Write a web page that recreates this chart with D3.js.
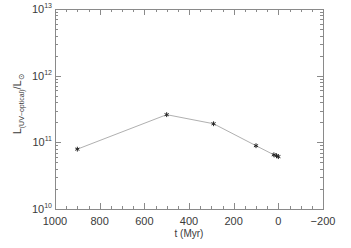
<!DOCTYPE html>
<html>
<head>
<meta charset="utf-8">
<script src="https://cdn.jsdelivr.net/npm/d3@7"></script>
<style>
body { margin: 0; background: #fff; }
svg text { font-family: "Liberation Sans", "DejaVu Sans", sans-serif; fill: #3a3a3a; }
</style>
</head>
<body>
<svg id="canvas" width="351" height="248"></svg>
<script>
var width = 351;
var height = 248;

// data
var times = [900, 500, 290, 100, 20, 8, 0];
var lums = [7.9e10, 2.6e11, 1.9e11, 8.9e10, 6.5e10, 6.3e10, 6.1e10];
var xTicks = [1000, 800, 600, 400, 200, 0, -200];
var yTicks = [1e10, 1e11, 1e12, 1e13];
var yExps = [10, 11, 12, 13];

var plotL = 55, plotR = 323, plotT = 9, plotB = 209;
var axisColor = "#8a8a8a";

var xScale = d3.scaleLinear()
.domain([1000, -200])
.range([plotL, plotR]);

var yScale = d3.scaleLog()
.domain([1e10, 1e13])
.range([plotB, plotT]);

var svg = d3.select("#canvas");

// frame
svg.append("rect")
.attr("x", plotL + 0.5).attr("y", plotT + 0.5)
.attr("width", plotR - plotL).attr("height", plotB - plotT)
.attr("fill", "none")
.attr("stroke", axisColor)
.attr("stroke-width", 1);

// x ticks (bottom + top)
var xMinor = d3.range(1000, -201, -50);
xMinor.forEach(function(v) {
  var major = v % 200 === 0;
  var len = major ? 6 : 3;
  var x = Math.round(xScale(v)) + 0.5;
  svg.append("line").attr("x1", x).attr("x2", x)
  .attr("y1", plotB).attr("y2", plotB - len)
  .attr("stroke", axisColor);
  svg.append("line").attr("x1", x).attr("x2", x)
  .attr("y1", plotT).attr("y2", plotT + len)
  .attr("stroke", axisColor);
});

// y ticks (left + right)
var yMinor = [];
for (var e = 10; e < 13; e++) {
  for (var m = 1; m < 10; m++) yMinor.push(m * Math.pow(10, e));
}
yMinor.push(1e13);
yMinor.forEach(function(v) {
  var lg = Math.log10(v);
  var major = Math.abs(lg - Math.round(lg)) < 1e-9;
  var len = major ? 6 : 3;
  var y = Math.round(yScale(v)) + 0.5;
  svg.append("line").attr("x1", plotL).attr("x2", plotL + len)
  .attr("y1", y).attr("y2", y)
  .attr("stroke", axisColor);
  svg.append("line").attr("x1", plotR).attr("x2", plotR - len)
  .attr("y1", y).attr("y2", y)
  .attr("stroke", axisColor);
});

// x tick labels
svg.selectAll(".xlab")
.data(xTicks)
.enter().append("text")
.attr("class", "xlab")
.attr("x", function(d) { return xScale(d); })
.attr("y", 225)
.attr("text-anchor", "middle")
.attr("font-size", 11)
.text(function(d) { return d < 0 ? "\u2212" + Math.abs(d) : d; });

// y tick labels
var ylab = svg.selectAll(".ylab")
.data(yTicks)
.enter().append("text")
.attr("class", "ylab")
.attr("x", 52)
.attr("y", function(d) { return yScale(d) + 4; })
.attr("text-anchor", "end")
.attr("font-size", 11);
ylab.append("tspan").text("10");
ylab.append("tspan")
.attr("dy", -5)
.attr("font-size", 7)
.text(function(d, i) { return yExps[i]; });

// axis titles
svg.append("text")
.attr("x", (plotL + plotR) / 2)
.attr("y", 237)
.attr("text-anchor", "middle")
.attr("font-size", 10)
.text("t (Myr)");

var yt = svg.append("text")
.attr("transform", "translate(21,104) rotate(-90)")
.attr("text-anchor", "middle")
.attr("font-size", 11);
yt.append("tspan").text("L");
yt.append("tspan").attr("dy", 3).attr("font-size", 7).text("(UV\u2212optical)");
yt.append("tspan").attr("dy", -3).text("/L");
yt.append("tspan").attr("dy", 3).attr("font-size", 8).text("\u2299");

// line
var line = d3.line()
.x(function(d, i) { return xScale(times[i]); })
.y(function(d) { return yScale(d); });

svg.append("path")
.datum(lums)
.attr("d", line)
.attr("fill", "none")
.attr("stroke", "#b0b0b0")
.attr("stroke-width", 1);

// asterisk markers
var sym = d3.symbol().type(d3.symbolAsterisk).size(16);
svg.selectAll(".pt")
.data(lums)
.enter().append("path")
.attr("class", "pt")
.attr("d", sym)
.attr("transform", function(d, i) { return "translate(" + xScale(times[i]) + "," + yScale(d) + ")"; })
.attr("fill", "none")
.attr("stroke", "#222")
.attr("stroke-width", 1);
</script>
</body>
</html>
